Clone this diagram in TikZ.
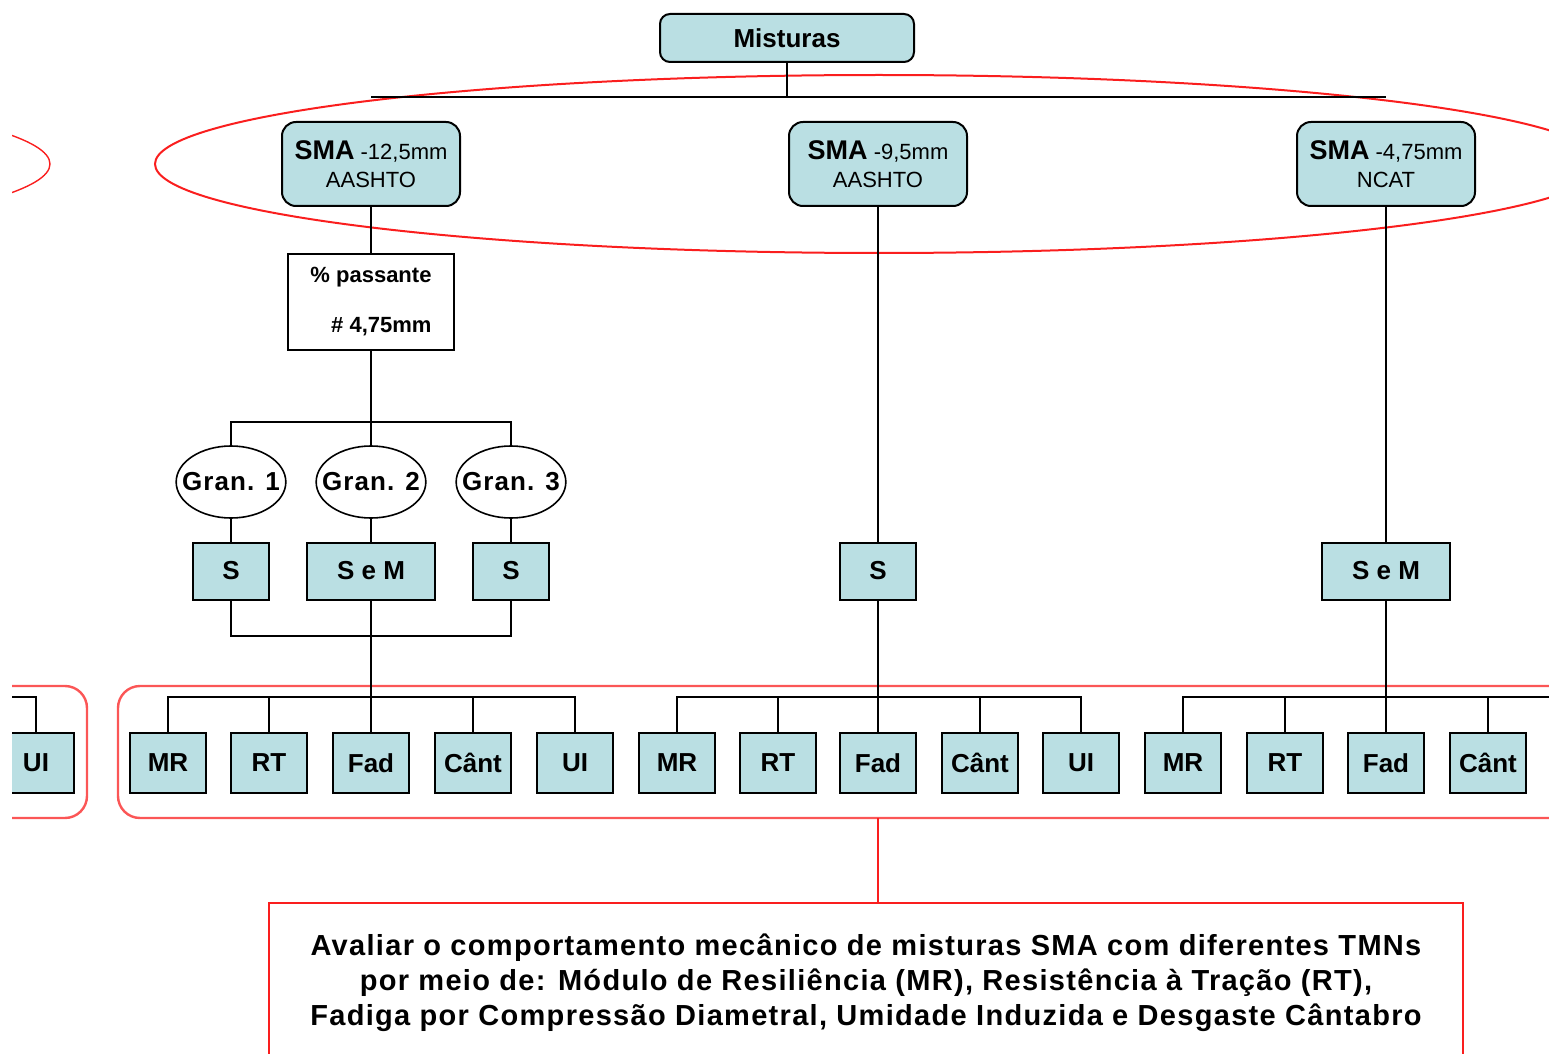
\documentclass[tikz,border=0pt]{standalone}
\usepackage{fontspec}
\setmainfont{Liberation Sans}
\usetikzlibrary{shapes.geometric}
\definecolor{boxblue}{RGB}{186,223,227}
\definecolor{markred}{RGB}{250,30,30}
\tikzset{mistbox/.style={rectangle,draw,rounded corners=5pt,fill=boxblue,line width=1pt,minimum width=127pt,minimum height=24pt,font=\bfseries\fontsize{13}{15}\selectfont},
smabox/.style={rectangle,draw,rounded corners=7pt,fill=boxblue,line width=1pt,align=center,minimum width=89pt,minimum height=42pt,inner sep=1pt,font=\fontsize{11}{14}\selectfont},
pasbox/.style={rectangle,draw,fill=white,line width=0.8pt,align=right,minimum width=83pt,minimum height=48pt,font=\bfseries\fontsize{11}{25}\selectfont},
gran/.style={ellipse,draw,fill=white,line width=0.8pt,minimum width=51pt,minimum height=36pt,inner xsep=-5pt,inner ysep=0pt,font=\bfseries\fontsize{13}{15}\selectfont\addfontfeatures{LetterSpace=4}},
resbox/.style={rectangle,draw,fill=boxblue,line width=1pt,minimum width=38pt,minimum height=28.5pt,font=\bfseries\fontsize{13}{15}\selectfont},
testbox/.style={rectangle,draw,fill=boxblue,line width=1pt,minimum width=38pt,minimum height=30pt,font=\bfseries\fontsize{13}{15}\selectfont},
goalbox/.style={rectangle,draw=markred,fill=white,line width=1pt,align=center,minimum width=597pt,minimum height=80pt,font=\bfseries\fontsize{14.5}{17.5}\selectfont\addfontfeatures{LetterSpace=4.5}},
wire/.style={line width=0.8pt},
redline/.style={draw=markred,line width=1pt}}

\begin{document}
\begin{tikzpicture}[x=0.5pt,y=-0.5pt]
\useasboundingbox (0,0) rectangle (1549,1054);
\clip (12,0) rectangle (1549,1054);
% red marks behind the tree
\draw[redline] (879,164) ellipse [x radius=724, y radius=89];
\draw[draw=markred,line width=0.7pt] (-674,164) ellipse [x radius=724, y radius=89];
\draw[draw=markred!75,line width=1.2pt,rounded corners=11pt] (118,686) rectangle (1620,818);
\draw[draw=markred!75,line width=1.2pt,rounded corners=11pt] (-60,686) rectangle (87,818);
% top of the tree
\node[mistbox] (mist) at (787,38) {Misturas};
\node[smabox] (sma1) at (371,164) {{\bfseries\fontsize{13.5}{15}\selectfont SMA} -12,5mm\\AASHTO};
\node[smabox] (sma2) at (878,164) {{\bfseries\fontsize{13.5}{15}\selectfont SMA} -9,5mm\\AASHTO};
\node[smabox] (sma3) at (1386,164) {{\bfseries\fontsize{13.5}{15}\selectfont SMA} -4,75mm\\NCAT};
\coordinate (bus) at (787,97);
% first branch
\node[pasbox] (pas) at (371,302) {\% passante\\\# 4,75mm};
\node[gran] (g1) at (231,482) {Gran. 1};
\node[gran] (g2) at (371,482) {Gran. 2};
\node[gran] (g3) at (511,482) {Gran. 3};
\node[resbox] (s1) at (231,571) {S};
\node[resbox,minimum width=64pt] (sem1) at (371,571) {S e M};
\node[resbox] (s3) at (511,571) {S};
\coordinate (gbus) at (371,422);
\coordinate (sbus) at (371,636);
% other branches
\node[resbox] (s2) at (878,571) {S};
\node[resbox,minimum width=64pt] (sem3) at (1386,571) {S e M};
% tests
\node[testbox] (ui0) at (36,763) {UI};
\node[testbox] (mr1) at (168,763) {MR};
\node[testbox] (rt1) at (269,763) {RT};
\node[testbox] (fad1) at (371,763) {Fad};
\node[testbox] (cant1) at (473,763) {Cânt};
\node[testbox] (ui1) at (575,763) {UI};
\node[testbox] (mr2) at (677,763) {MR};
\node[testbox] (rt2) at (778,763) {RT};
\node[testbox] (fad2) at (878,763) {Fad};
\node[testbox] (cant2) at (980,763) {Cânt};
\node[testbox] (ui2) at (1081,763) {UI};
\node[testbox] (mr3) at (1183,763) {MR};
\node[testbox] (rt3) at (1285,763) {RT};
\node[testbox] (fad3) at (1386,763) {Fad};
\node[testbox] (cant3) at (1488,763) {Cânt};
\coordinate (tbus0) at (-20,697);
\coordinate (tbus1) at (371,697);
\coordinate (tbus2) at (878,697);
\coordinate (tbus3) at (1620,697);
\coordinate (grpbot) at (878,818);
\node[goalbox] (goal) at (866,983) {Avaliar o comportamento mecânico de misturas SMA com diferentes TMNs\\por meio de: Módulo de Resiliência (MR), Resistência à Tração (RT),\\Fadiga por Compressão Diametral, Umidade Induzida e Desgaste Cântabro};
% connectors
\draw[wire] (mist) -- (bus);
\draw[wire] (sma1 |- bus) -- (sma3 |- bus);
\draw[wire] (sma1) -- (pas);
\draw[wire] (pas) -- (g2);
\draw[wire] (g1) |- (gbus) -| (g3);
\draw[wire] (g1) -- (s1);
\draw[wire] (g2) -- (sem1);
\draw[wire] (g3) -- (s3);
\draw[wire] (s1) |- (sbus) -| (s3);
\draw[wire] (sem1) -- (fad1);
\draw[wire] (sma2) -- (s2);
\draw[wire] (s2) -- (fad2);
\draw[wire] (sma3) -- (sem3);
\draw[wire] (sem3) -- (fad3);
\draw[wire] (ui0) |- (tbus0);
\draw[wire] (mr1) |- (tbus1) -| (ui1);
\draw[wire] (rt1) -- (rt1 |- tbus1);
\draw[wire] (cant1) -- (cant1 |- tbus1);
\draw[wire] (mr2) |- (tbus2) -| (ui2);
\draw[wire] (rt2) -- (rt2 |- tbus2);
\draw[wire] (cant2) -- (cant2 |- tbus2);
\draw[wire] (mr3) |- (tbus3);
\draw[wire] (rt3) -- (rt3 |- tbus3);
\draw[wire] (cant3) -- (cant3 |- tbus3);
\draw[redline] (grpbot) -- (grpbot |- goal.north);
\end{tikzpicture}
\end{document}
